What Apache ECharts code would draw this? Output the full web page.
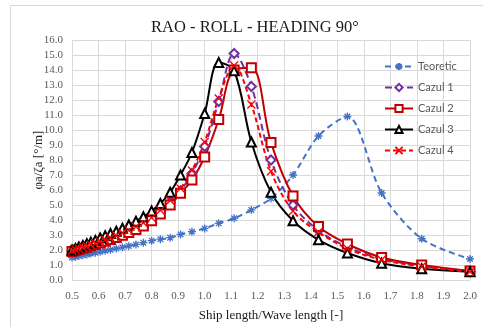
<!DOCTYPE html>
<html><head><meta charset="utf-8">
<script src="https://cdn.jsdelivr.net/npm/echarts@6/dist/echarts.min.js"></script>
<style>html,body{margin:0;padding:0;background:#fff}#c{width:483px;height:327px}</style>
</head><body><div id="c"></div>
<script>
const xs = [0.5,0.513,0.526,0.541,0.556,0.571,0.588,0.606,0.625,0.645,0.667,0.690,0.714,0.741,0.769,0.8,0.833,0.870,0.909,0.952,1.0,1.053,1.111,1.176,1.25,1.333,1.429,1.538,1.667,1.818,2.0];
const teoretic = [1.50,1.55,1.60,1.65,1.70,1.76,1.82,1.88,1.95,2.02,2.10,2.18,2.27,2.37,2.49,2.62,2.72,2.82,3.04,3.22,3.44,3.78,4.11,4.67,5.44,7.0,9.6,10.9,5.8,2.75,1.4];
const cazul1 = [1.95,2.02,2.09,2.16,2.24,2.33,2.43,2.53,2.65,2.78,2.93,3.09,3.27,3.48,3.73,4.05,4.5,5.15,5.95,7.1,8.9,11.9,15.1,12.9,8.0,5.0,3.3,2.2,1.4,0.95,0.55];
const cazul2 = [1.9,1.97,2.04,2.11,2.19,2.28,2.37,2.47,2.58,2.7,2.84,2.99,3.16,3.36,3.6,3.95,4.4,5.0,5.78,6.67,8.2,10.7,14.0,14.15,9.16,5.6,3.56,2.4,1.5,1.0,0.6];
const cazul3 = [2.0,2.1,2.2,2.3,2.42,2.52,2.64,2.8,2.95,3.1,3.25,3.45,3.67,3.92,4.22,4.6,5.1,5.85,7.0,8.5,11.1,14.5,13.95,9.2,5.85,3.95,2.68,1.8,1.12,0.75,0.55];
const cazul4 = [1.95,2.03,2.1,2.18,2.26,2.35,2.45,2.56,2.68,2.82,2.97,3.13,3.32,3.55,3.82,4.15,4.65,5.3,6.1,7.3,9.2,12.1,14.3,11.7,7.25,4.6,3.2,2.1,1.35,0.9,0.55];
const seriesNames = ['Teoretic','Cazul 1','Cazul 2','Cazul 3','Cazul 4'];

const pairs = ys => xs.map((x,i)=>[x, ys[i]]);
const STAR = 'path://M0,5L10,5M5,0L5,10M1.5,1.5L8.5,8.5M8.5,1.5L1.5,8.5';
const CROSS = 'path://M0,0L10,10M10,0L0,10';
const serif = '"Liberation Serif","Times New Roman",serif';

const chart = echarts.init(document.getElementById('c'), null, {renderer:'canvas'});
chart.setOption({
  animation:false,
  backgroundColor:'#fff',
  graphic:[{type:'rect',shape:{x:10.5,y:5.5,width:480,height:340},style:{fill:'none',stroke:'#d9d9d9',lineWidth:1},z:-1}],
  title:{text:'RAO - ROLL - HEADING 90°',left:250,textAlign:'center',top:14,
    textStyle:{fontFamily:serif,fontWeight:'normal',fontSize:16.5,color:'#1a1a1a'}},
  legend:{orient:'vertical',left:379,top:56,itemWidth:28,itemHeight:9,itemGap:10,
    data:seriesNames,
    textStyle:{fontFamily:'Lato, "Liberation Sans", sans-serif',fontSize:11,color:'#595959'}},
  grid:{left:72,top:40,width:398,height:240},
  xAxis:{type:'value',min:0.5,max:2.0,interval:0.1,
    name:'Ship length/Wave length [-]',nameLocation:'middle',nameGap:29,nameMoveOverlap:false,
    nameTextStyle:{fontFamily:serif,fontSize:13,color:'#1a1a1a'},
    axisLine:{show:true,lineStyle:{color:'#d9d9d9'}},axisTick:{show:false},
    axisLabel:{formatter:v=>v.toFixed(1),fontFamily:serif,fontSize:11,color:'#595959',margin:11},
    splitLine:{show:true,lineStyle:{color:'#d9d9d9'}}},
  yAxis:{type:'value',min:0,max:16,interval:1,
    name:'φa/ζa [°/m]',nameLocation:'middle',nameGap:27,nameRotate:90,nameMoveOverlap:false,
    nameTextStyle:{fontFamily:serif,fontSize:13,color:'#1a1a1a'},
    axisLine:{show:false},axisTick:{show:false},
    axisLabel:{formatter:v=>v.toFixed(1),fontFamily:serif,fontSize:11,color:'#595959',margin:9},
    splitLine:{show:true,lineStyle:{color:'#d9d9d9'}}},
  series:[
    {name:'Teoretic',type:'line',smooth:0.3,data:pairs(teoretic),symbol:STAR,symbolSize:8,
      lineStyle:{color:'#4472C4',width:2,type:[6,4]},
      itemStyle:{color:'#4472C4',borderColor:'#4472C4',borderWidth:1.3}},
    {name:'Cazul 1',type:'line',smooth:0.35,data:pairs(cazul1),symbol:'emptyDiamond',symbolSize:9,
      lineStyle:{color:'#7030A0',width:2,type:[7,4]},
      itemStyle:{color:'#7030A0',borderColor:'#7030A0',borderWidth:1}},
    {name:'Cazul 2',type:'line',smooth:0.35,data:pairs(cazul2),symbol:'emptyRect',symbolSize:9,
      lineStyle:{color:'#C00000',width:2,type:'solid'},
      itemStyle:{color:'#C00000',borderColor:'#C00000',borderWidth:1}},
    {name:'Cazul 3',type:'line',smooth:0.35,data:pairs(cazul3),symbol:'emptyTriangle',symbolSize:9,
      lineStyle:{color:'#000000',width:2,type:'solid'},
      itemStyle:{color:'#000000',borderColor:'#000000',borderWidth:1}},
    {name:'Cazul 4',type:'line',smooth:0.35,data:pairs(cazul4),symbol:CROSS,symbolSize:8,
      lineStyle:{color:'#FF0000',width:2,type:[5,3]},
      itemStyle:{color:'#FF0000',borderColor:'#FF0000',borderWidth:1.3}}
  ]
});
</script></body></html>
